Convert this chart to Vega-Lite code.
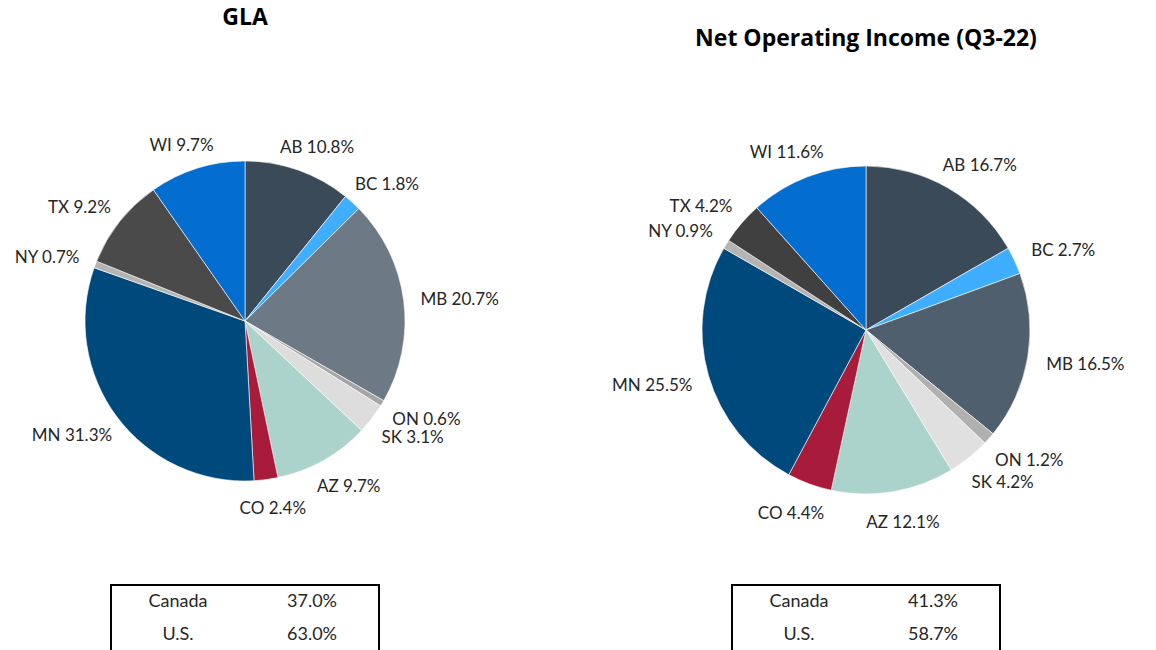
{
  "$schema": "https://vega.github.io/schema/vega-lite/v6.json",
  "padding": {"left": 0, "top": 7, "right": 0, "bottom": 0},
  "background": "white",
  "spacing": 113,
  "resolve": {"scale": {"color": "independent", "theta": "independent"}},
  "config": {
    "view": {"stroke": null},
    "font": "Lato",
    "title": {"font": "Open Sans", "fontSize": 23, "fontWeight": "bold", "color": "#000000", "anchor": "middle"},
    "text": {"font": "Lato"}
  },
  "datasets": {
    "gla": [
      {"order": 1, "state": "AB", "value": 10.8, "label": "AB 10.8%"},
      {"order": 2, "state": "BC", "value": 1.8, "label": "BC 1.8%"},
      {"order": 3, "state": "MB", "value": 20.7, "label": "MB 20.7%"},
      {"order": 4, "state": "ON", "value": 0.6, "label": "ON 0.6%"},
      {"order": 5, "state": "SK", "value": 3.1, "label": "SK 3.1%"},
      {"order": 6, "state": "AZ", "value": 9.7, "label": "AZ 9.7%"},
      {"order": 7, "state": "CO", "value": 2.4, "label": "CO 2.4%"},
      {"order": 8, "state": "MN", "value": 31.3, "label": "MN 31.3%"},
      {"order": 9, "state": "NY", "value": 0.7, "label": "NY 0.7%"},
      {"order": 10, "state": "TX", "value": 9.2, "label": "TX 9.2%"},
      {"order": 11, "state": "WI", "value": 9.7, "label": "WI 9.7%"}
    ],
    "noi": [
      {"order": 1, "state": "AB", "value": 16.7, "label": "AB  16.7%"},
      {"order": 2, "state": "BC", "value": 2.7, "label": "BC 2.7%"},
      {"order": 3, "state": "MB", "value": 16.5, "label": "MB 16.5%"},
      {"order": 4, "state": "ON", "value": 1.2, "label": "ON 1.2%"},
      {"order": 5, "state": "SK", "value": 4.2, "label": "SK 4.2%"},
      {"order": 6, "state": "AZ", "value": 12.1, "label": "AZ 12.1%"},
      {"order": 7, "state": "CO", "value": 4.4, "label": "CO 4.4%"},
      {"order": 8, "state": "MN", "value": 25.5, "label": "MN 25.5%"},
      {"order": 9, "state": "NY", "value": 0.9, "label": "NY 0.9%"},
      {"order": 10, "state": "TX", "value": 4.2, "label": "TX 4.2%"},
      {"order": 11, "state": "WI", "value": 11.6, "label": "WI 11.6%"}
    ],
    "glaTable": [
      {"region": "Canada", "pct": "37.0%"},
      {"region": "U.S.", "pct": "63.0%"}
    ],
    "noiTable": [
      {"region": "Canada", "pct": "41.3%"},
      {"region": "U.S.", "pct": "58.7%"}
    ]
  },
  "hconcat": [
    {
      "bounds": "flush",
      "center": true,
      "spacing": 34,
      "vconcat": [
        {
          "width": 490,
          "height": 460,
          "title": {"text": "GLA", "offset": 61},
          "data": {"name": "gla"},
          "encoding": {
            "theta": {"field": "value", "type": "quantitative", "stack": true},
            "order": {"field": "order", "type": "quantitative"}
          },
          "layer": [
            {
              "mark": {"type": "arc", "outerRadius": 160, "stroke": "#ffffff", "strokeWidth": 0.6},
              "encoding": {
                "color": {
                  "field": "state", "type": "nominal", "legend": null,
                  "scale": {
                    "domain": ["AB", "BC", "MB", "ON", "SK", "AZ", "CO", "MN", "NY", "TX", "WI"],
                    "range": ["#3B4A59", "#3FAEFF", "#6D7A86", "#A5A5A5", "#DDDDDD", "#ABD3CB", "#A81B3A", "#00497D", "#B4B4B4", "#4A4A4A", "#046DD0"]
                  }
                }
              }
            },
            {
              "mark": {
                "type": "text", "radius": 178, "fontSize": 17, "color": "#262626",
                "align": "center", "baseline": "middle",
                "dx": {"expr": "sin((datum.value_start + datum.value_end) * PI / 100) * length(datum.label) * 4.8"},
                "dy": {"expr": "3 - cos((datum.value_start + datum.value_end) * PI / 100) * 9"}
              },
              "encoding": {"text": {"field": "label", "type": "nominal"}}
            }
          ]
        },
        {
          "width": 268,
          "height": 66,
          "view": {"stroke": "#000000", "strokeWidth": 2},
          "data": {"name": "glaTable"},
          "transform": [{"fold": ["region", "pct"], "as": ["col", "txt"]}],
          "mark": {"type": "text", "fontSize": 18, "color": "#262626"},
          "encoding": {
            "x": {"field": "col", "type": "nominal", "scale": {"domain": ["region", "pct"]}, "axis": null},
            "y": {"field": "region", "type": "nominal", "scale": {"domain": ["Canada", "U.S."]}, "axis": null},
            "text": {"field": "txt", "type": "nominal"}
          }
        }
      ]
    },
    {
      "bounds": "flush",
      "center": true,
      "spacing": 16,
      "vconcat": [
        {
          "width": 490,
          "height": 478,
          "title": {"text": "Net Operating Income (Q3-22)", "offset": 40},
          "data": {"name": "noi"},
          "encoding": {
            "theta": {"field": "value", "type": "quantitative", "stack": true},
            "order": {"field": "order", "type": "quantitative"}
          },
          "layer": [
            {
              "mark": {"type": "arc", "outerRadius": 164, "stroke": "#ffffff", "strokeWidth": 0.6},
              "encoding": {
                "color": {
                  "field": "state", "type": "nominal", "legend": null,
                  "scale": {
                    "domain": ["AB", "BC", "MB", "ON", "SK", "AZ", "CO", "MN", "NY", "TX", "WI"],
                    "range": ["#3B4A59", "#3FAEFF", "#4F5F6D", "#B0B0B0", "#E0E0E0", "#ABD3CB", "#A81B3A", "#00497D", "#B4B4B4", "#404040", "#046DD0"]
                  }
                }
              }
            },
            {
              "mark": {
                "type": "text", "radius": 184, "fontSize": 17, "color": "#262626",
                "align": "center", "baseline": "middle",
                "dx": {"expr": "sin((datum.value_start + datum.value_end) * PI / 100) * length(datum.label) * 4.8"},
                "dy": {"expr": "3 - cos((datum.value_start + datum.value_end) * PI / 100) * 9"}
              },
              "encoding": {"text": {"field": "label", "type": "nominal"}}
            }
          ]
        },
        {
          "width": 268,
          "height": 66,
          "view": {"stroke": "#000000", "strokeWidth": 2},
          "data": {"name": "noiTable"},
          "transform": [{"fold": ["region", "pct"], "as": ["col", "txt"]}],
          "mark": {"type": "text", "fontSize": 18, "color": "#262626"},
          "encoding": {
            "x": {"field": "col", "type": "nominal", "scale": {"domain": ["region", "pct"]}, "axis": null},
            "y": {"field": "region", "type": "nominal", "scale": {"domain": ["Canada", "U.S."]}, "axis": null},
            "text": {"field": "txt", "type": "nominal"}
          }
        }
      ]
    }
  ]
}
